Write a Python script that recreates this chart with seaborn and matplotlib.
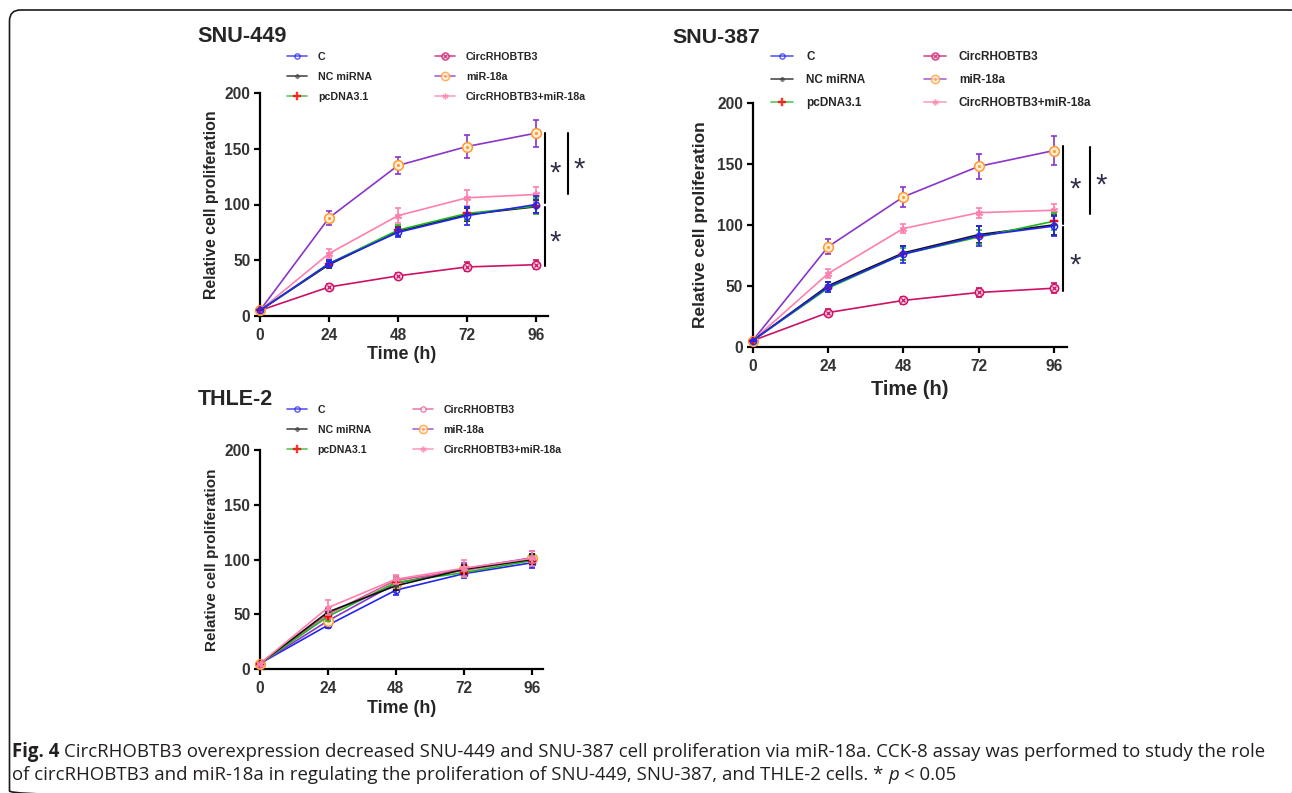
import matplotlib
matplotlib.use("Agg")
import matplotlib.pyplot as plt
import seaborn as sns
import numpy as np
from matplotlib.lines import Line2D
from matplotlib.patches import FancyBboxPatch
from matplotlib.legend_handler import HandlerTuple

# ---------------- data ----------------
times = [0, 24, 48, 72, 96]
groups = ["C", "NC miRNA", "pcDNA3.1", "CircRHOBTB3", "miR-18a", "CircRHOBTB3+miR-18a"]

# SNU-449
snu449_c = [5, 47, 75, 90, 100]
snu449_c_err = [0, 3, 4, 8, 8]
snu449_nc = [5, 46, 76, 91, 98]
snu449_nc_err = [0, 3, 4, 6, 6]
snu449_pc = [5, 47, 77, 92, 98.5]
snu449_pc_err = [0, 3, 5, 6, 7]
snu449_circ = [5, 26, 36, 44, 46]
snu449_circ_err = [0, 3, 3, 4, 4]
snu449_mir = [5, 88, 135, 152, 164]
snu449_mir_err = [0, 6, 8, 10, 12]
snu449_combo = [5, 56, 90, 106, 109]
snu449_combo_err = [0, 4, 7, 7, 7]

# SNU-387
snu387_c = [5, 49, 76, 91, 99]
snu387_c_err = [0, 4, 7, 8, 8]
snu387_nc = [5, 50, 77, 92, 100]
snu387_nc_err = [0, 3, 6, 7, 8]
snu387_pc = [5, 48, 76, 90, 103]
snu387_pc_err = [0, 3, 5, 6, 7]
snu387_circ = [5, 28, 38, 44.5, 48]
snu387_circ_err = [0, 3, 3, 4, 4]
snu387_mir = [5, 82, 123, 148, 161]
snu387_mir_err = [0, 6, 8, 10, 12]
snu387_combo = [5, 60, 97, 110, 112]
snu387_combo_err = [0, 4, 4, 4, 5]

# THLE-2
thle_c = [5, 40, 72, 87, 97]
thle_c_err = [0, 3, 4, 4, 5]
thle_nc = [5, 52, 76, 91, 100]
thle_nc_err = [0, 3, 4, 4, 5]
thle_pc = [5, 48, 79, 88, 99]
thle_pc_err = [0, 4, 4, 4, 4]
thle_circ = [5, 50, 81, 90, 100]
thle_circ_err = [0, 4, 4, 5, 5]
thle_mir = [5, 44, 78, 91.5, 101.5]
thle_mir_err = [0, 4, 4, 5, 6]
thle_combo = [5, 56, 82, 92, 101]
thle_combo_err = [0, 7, 4, 8, 7]

xticks = [0, 24, 48, 72, 96]
yticks = [0, 50, 100, 150, 200]

# significance brackets: (x, y0, y1) and stars (x, y)
sig449_lines = [(99.1, 101, 164), (107.1, 109, 164), (99.1, 45, 98)]
sig449_stars = [(102.6, 127.5), (111.0, 131.5), (102.6, 65.5)]
sig387_lines = [(98.9, 101, 165), (107.5, 109, 164), (98.9, 46, 98)]
sig387_stars = [(102.6, 129), (111.0, 132), (102.6, 66.5)]

caption1_bold = "Fig. 4"
caption1_rest = ("CircRHOBTB3 overexpression decreased SNU-449 and SNU-387 cell proliferation via "
                 "miR-18a. CCK-8 assay was performed to study the role")
caption2_rest = ("of circRHOBTB3 and miR-18a in regulating the proliferation of SNU-449, SNU-387, "
                 "and THLE-2 cells. *")
caption2_p = "p"
caption2_end = "< 0.05"

# ---------------- style ----------------
sns.set_style("ticks")
plt.rcParams["font.family"] = ["Liberation Sans", "DejaVu Sans"]

W, H = 1292, 793
fig = plt.figure(figsize=(W / 100, H / 100), dpi=100)

BLUE = "#2424f2"
BLACK = "#111111"
GREEN = "#22b422"
RED = "#ff0000"
CRIM = "#cc1166"
CRIM_T = "#e0589a"
PURP = "#8a35c8"
ORNG = "#ff9a30"
PINK = "#ff7fae"


def styles(thle=False):
    if thle:
        circ = dict(color=CRIM_T, marker="o", ms=4.5, mfc="white", mec=CRIM_T, mew=1.0, over=None)
    else:
        circ = dict(color=CRIM, marker="o", ms=6, mfc="#f8d8e6", mec=CRIM, mew=1.1,
                    over=dict(marker="x", ms=3.2, mfc=CRIM, mec=CRIM, mew=0.9))
    return [
        dict(color=BLUE, marker="o", ms=4.5, mfc="none", mec=BLUE, mew=1.0, over=None),
        dict(color=BLACK, marker="P", ms=4, mfc="#444444", mec="#444444", mew=0.3, over=None),
        dict(color=GREEN, marker="P", ms=6, mfc=RED, mec=RED, mew=0.3, over=None),
        circ,
        dict(color=PURP, marker="o", ms=7, mfc="#ffeed8", mec=ORNG, mew=1.1,
             over=dict(marker=".", ms=3.5, mfc=ORNG, mec=ORNG, mew=0.5)),
        dict(color=PINK, marker=(6, 2, 0), ms=5, mfc=PINK, mec=PINK, mew=1.0, over=None),
    ]


def draw_panel(ax, series, errs, xmax, thle=False, order=None, ylab_fs=11.4, xlab_fs=12.9,
               ylab_x=-0.142, xlab_y=-0.135, xlab_x=0.5):
    st = styles(thle)
    if order is None:
        order = range(len(series))
    z = 3
    for i in order:
        s = st[i]
        ax.errorbar(times, series[i], yerr=errs[i], fmt="none", ecolor=s["color"],
                    elinewidth=1.2, capsize=2.5, capthick=1.2, clip_on=False, zorder=z)
        sns.lineplot(x=times, y=series[i], ax=ax, color=s["color"], linewidth=1.2,
                     marker=s["marker"], markersize=s["ms"], markerfacecolor=s["mfc"],
                     markeredgecolor=s["mec"], markeredgewidth=s["mew"], clip_on=False,
                     zorder=z + 0.5)
        if s["over"] is not None:
            o = s["over"]
            ax.plot(times, series[i], linestyle="none", marker=o["marker"], markersize=o["ms"],
                    markerfacecolor=o["mfc"], markeredgecolor=o["mec"], markeredgewidth=o["mew"],
                    clip_on=False, zorder=z + 0.6)
        z += 1
    ax.set_xlim(0, xmax)
    ax.set_ylim(0, 200)
    ax.set_xticks(xticks)
    ax.set_yticks(yticks)
    sns.despine(ax=ax)
    for sp in ["left", "bottom"]:
        ax.spines[sp].set_linewidth(1.6)
        ax.spines[sp].set_color("black")
    ax.tick_params(axis="both", direction="out", length=4, width=1.6, color="black",
                   labelsize=11.2, labelcolor="#333333", pad=3)
    ax.tick_params(axis="x", pad=4.5)
    for lab in ax.get_xticklabels() + ax.get_yticklabels():
        lab.set_fontweight("bold")
    ax.set_xlabel("Time (h)", fontsize=xlab_fs, fontweight="bold")
    ax.set_ylabel("Relative cell proliferation", fontsize=ylab_fs, fontweight="bold")
    ax.yaxis.set_label_coords(ylab_x, 0.5)
    ax.xaxis.set_label_coords(xlab_x, xlab_y)


def make_handles(thle=False):
    st = styles(thle)
    handles = []
    for s in st:
        h = Line2D([0], [0], color=s["color"], linewidth=1.2, marker=s["marker"],
                   markersize=s["ms"] * 0.85, markerfacecolor=s["mfc"],
                   markeredgecolor=s["mec"], markeredgewidth=s["mew"], alpha=0.75)
        if s["over"] is not None:
            o = s["over"]
            h2 = Line2D([0], [0], linestyle="none", marker=o["marker"], markersize=o["ms"] * 0.85,
                        markerfacecolor=o["mfc"], markeredgecolor=o["mec"],
                        markeredgewidth=o["mew"], alpha=0.75)
            h = (h, h2)
        handles.append(h)
    return handles


def legend(x_px, y_px, fsize, colgap, pitch_ls, hlen, tpad, thle=False):
    leg = fig.legend(make_handles(thle), groups, loc="upper left",
                     bbox_to_anchor=(x_px / W, 1 - y_px / H), bbox_transform=fig.transFigure,
                     ncol=2, frameon=False, borderpad=0, borderaxespad=0,
                     handlelength=hlen, handletextpad=tpad, columnspacing=colgap,
                     labelspacing=pitch_ls, prop=dict(size=fsize, weight="bold"),
                     handler_map={tuple: HandlerTuple(ndivide=1)})
    return leg


# axes
ax1 = fig.add_axes([260 / W, 1 - 316 / H, 288 / W, (316 - 93) / H])
ax2 = fig.add_axes([752.7 / W, 1 - 346.7 / H, (1067 - 752.7) / W, (346.7 - 103) / H])
ax3 = fig.add_axes([260 / W, 1 - 669 / H, (543 - 260) / W, (669 - 450) / H])

order_snu = [3, 4, 5, 1, 2, 0]
draw_panel(ax1,
           [snu449_c, snu449_nc, snu449_pc, snu449_circ, snu449_mir, snu449_combo],
           [snu449_c_err, snu449_nc_err, snu449_pc_err, snu449_circ_err, snu449_mir_err, snu449_combo_err],
           100.2, order=order_snu, ylab_fs=11.4, xlab_fs=12.9, ylab_x=-0.142, xlab_y=-0.1345,
           xlab_x=0.493)
draw_panel(ax2,
           [snu387_c, snu387_nc, snu387_pc, snu387_circ, snu387_mir, snu387_combo],
           [snu387_c_err, snu387_nc_err, snu387_pc_err, snu387_circ_err, snu387_mir_err, snu387_combo_err],
           100.1, order=order_snu, ylab_fs=12.5, xlab_fs=14.4, ylab_x=-0.142, xlab_y=-0.137,
           xlab_x=0.5)
draw_panel(ax3,
           [thle_c, thle_nc, thle_pc, thle_circ, thle_mir, thle_combo],
           [thle_c_err, thle_nc_err, thle_pc_err, thle_circ_err, thle_mir_err, thle_combo_err],
           100.0, thle=True, order=[0, 4, 3, 2, 1, 5], ylab_fs=11.0, xlab_fs=12.9,
           ylab_x=-0.145, xlab_y=-0.1416, xlab_x=0.502)

# significance
for ax, lines, stars in [(ax1, sig449_lines, sig449_stars), (ax2, sig387_lines, sig387_stars)]:
    for (x, y0, y1) in lines:
        ax.plot([x, x], [y0, y1], color="black", linewidth=1.5, clip_on=False, zorder=10)
    for (x, y) in stars:
        ax.text(x, y, "*", fontsize=21, color="#2e2e48", ha="center", va="center",
                clip_on=False, zorder=10)

# titles
fig.text(197 / W, 1 - 42 / H, "SNU-449", fontsize=15.6, fontweight="bold", ha="left", va="baseline")
fig.text(672 / W, 1 - 43 / H, "SNU-387", fontsize=15.4, fontweight="bold", ha="left", va="baseline")
fig.text(198 / W, 1 - 405 / H, "THLE-2", fontsize=15.5, fontweight="bold", ha="left", va="baseline")

# legends
legend(287, 51.5, 7.7, 5.9, 0.95, 1.9, 1.0)
legend(771, 51.5, 8.5, 4.9, 0.9, 1.9, 1.1)
legend(287, 405, 7.6, 4.0, 0.95, 1.9, 1.0, thle=True)

# border (pixel-space background axes)
bg = fig.add_axes([0, 0, 1, 1], zorder=-5)
bg.set_xlim(0, W)
bg.set_ylim(H, 0)
bg.axis("off")
bg.add_patch(FancyBboxPatch((9.5, 10), 1292, 792, boxstyle="round,pad=0,rounding_size=11",
                            fill=False, edgecolor="#1a1a1a", linewidth=1.2, clip_on=False))

# caption
renderer = fig.canvas.get_renderer()
cap_font = ["Open Sans", "DejaVu Sans"]
probe = fig.text(0, 0, caption1_bold + " " + caption1_rest, fontsize=12, family=cap_font)
wpx = probe.get_window_extent(renderer).width
probe.remove()
cfs = 12 * 1244 / wpx
space = cfs * 100 / 72 * 0.26


def chain(x_px, y_px, parts):
    x = x_px
    for txt, kw in parts:
        t = fig.text(x / W, 1 - y_px / H, txt, fontsize=cfs, family=cap_font, color="#231f20",
                     va="baseline", ha="left", **kw)
        x += t.get_window_extent(renderer).width + space


chain(12, 757, [(caption1_bold, dict(fontweight="bold")), (caption1_rest, {})])
chain(12, 780, [(caption2_rest, {}), (caption2_p, dict(style="italic")), (caption2_end, {})])

fig.savefig("out.png", dpi=100)
